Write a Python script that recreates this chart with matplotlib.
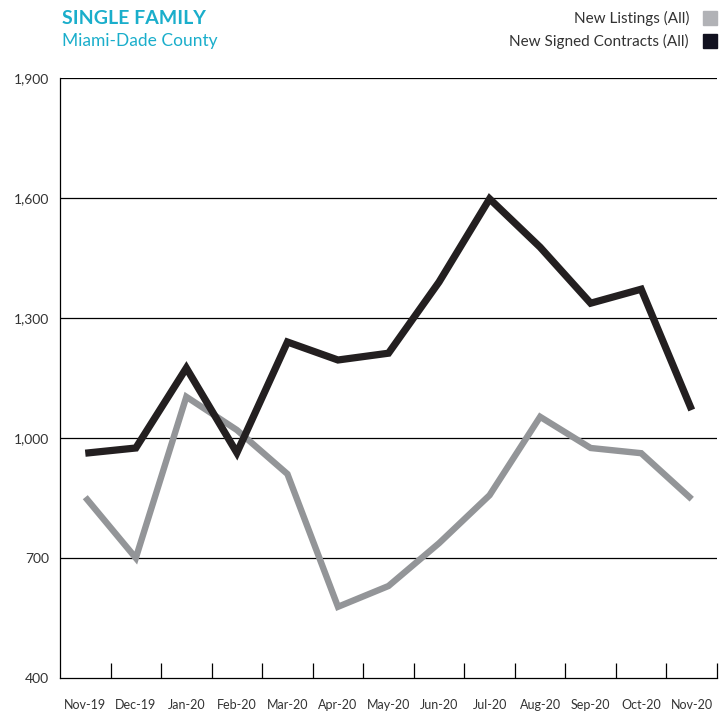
import matplotlib.pyplot as plt
from matplotlib.patches import Rectangle

months = ['Nov-19', 'Dec-19', 'Jan-20', 'Feb-20', 'Mar-20', 'Apr-20', 'May-20',
          'Jun-20', 'Jul-20', 'Aug-20', 'Sep-20', 'Oct-20', 'Nov-20']
new_listings = [852, 700, 1103, 1020, 910, 578, 630, 737, 857, 1053, 975, 962, 847]
new_contracts = [962, 975, 1175, 963, 1240, 1195, 1212, 1390, 1598, 1477, 1337, 1372, 1070]
yticks = [400, 700, 1000, 1300, 1600, 1900]

teal = '#1aaecb'
gray = '#939598'
dark = '#231f20'
plt.rcParams['font.family'] = ['Lato', 'DejaVu Sans']

W, H = 723, 715
fig = plt.figure(figsize=(W / 100, H / 100), dpi=100)
ax = fig.add_axes([60 / W, (H - 678) / H, (717 - 60) / W, 600 / H])

x = list(range(len(months)))
ax.plot(x, new_listings, color=gray, lw=4.6, solid_joinstyle='miter', solid_capstyle='butt')
ax.plot(x, new_contracts, color=dark, lw=5.2, solid_joinstyle='miter', solid_capstyle='butt')

ax.set_xlim(-0.5, len(months) - 0.5)
ax.set_ylim(400, 1900)
ax.set_yticks(yticks)
ax.set_yticklabels([f'{v:,}' for v in yticks], fontsize=10, color='#333333')
ax.tick_params(axis='y', length=0, pad=8)
for v in yticks[1:]:
    ax.axhline(v, color='black', lw=0.9, zorder=0)

ax.set_xticks(x)
ax.set_xticklabels(months, fontsize=9, color='#333333')
ax.tick_params(axis='x', which='major', length=0, pad=15)
ax.set_xticks([i + 0.5 for i in x], minor=True)
ax.tick_params(axis='x', which='minor', direction='in', length=11, width=0.9, color='black')

for s in ['top', 'right']:
    ax.spines[s].set_visible(False)
for s in ['left', 'bottom']:
    ax.spines[s].set_linewidth(0.9)
    ax.spines[s].set_color('black')

fig.text(62 / W, 1 - 19 / H, 'SINGLE FAMILY', color=teal, fontsize=14,
         fontweight='bold', va='center', ha='left')
fig.text(62 / W, 1 - 41 / H, 'Miami-Dade County', color=teal, fontsize=12.5,
         va='center', ha='left')

legend = [('New Listings (All)', '#b1b2b6', 18), ('New Signed Contracts (All)', '#11111f', 41)]
for label, col, yy in legend:
    fig.text(689 / W, 1 - yy / H, label, color='#333333', fontsize=11,
             va='center', ha='right')
    fig.patches.append(Rectangle((703 / W, 1 - (yy + 7) / H), 14 / W, 14 / H,
                                 transform=fig.transFigure, color=col))

fig.savefig('out.png', dpi=100)
